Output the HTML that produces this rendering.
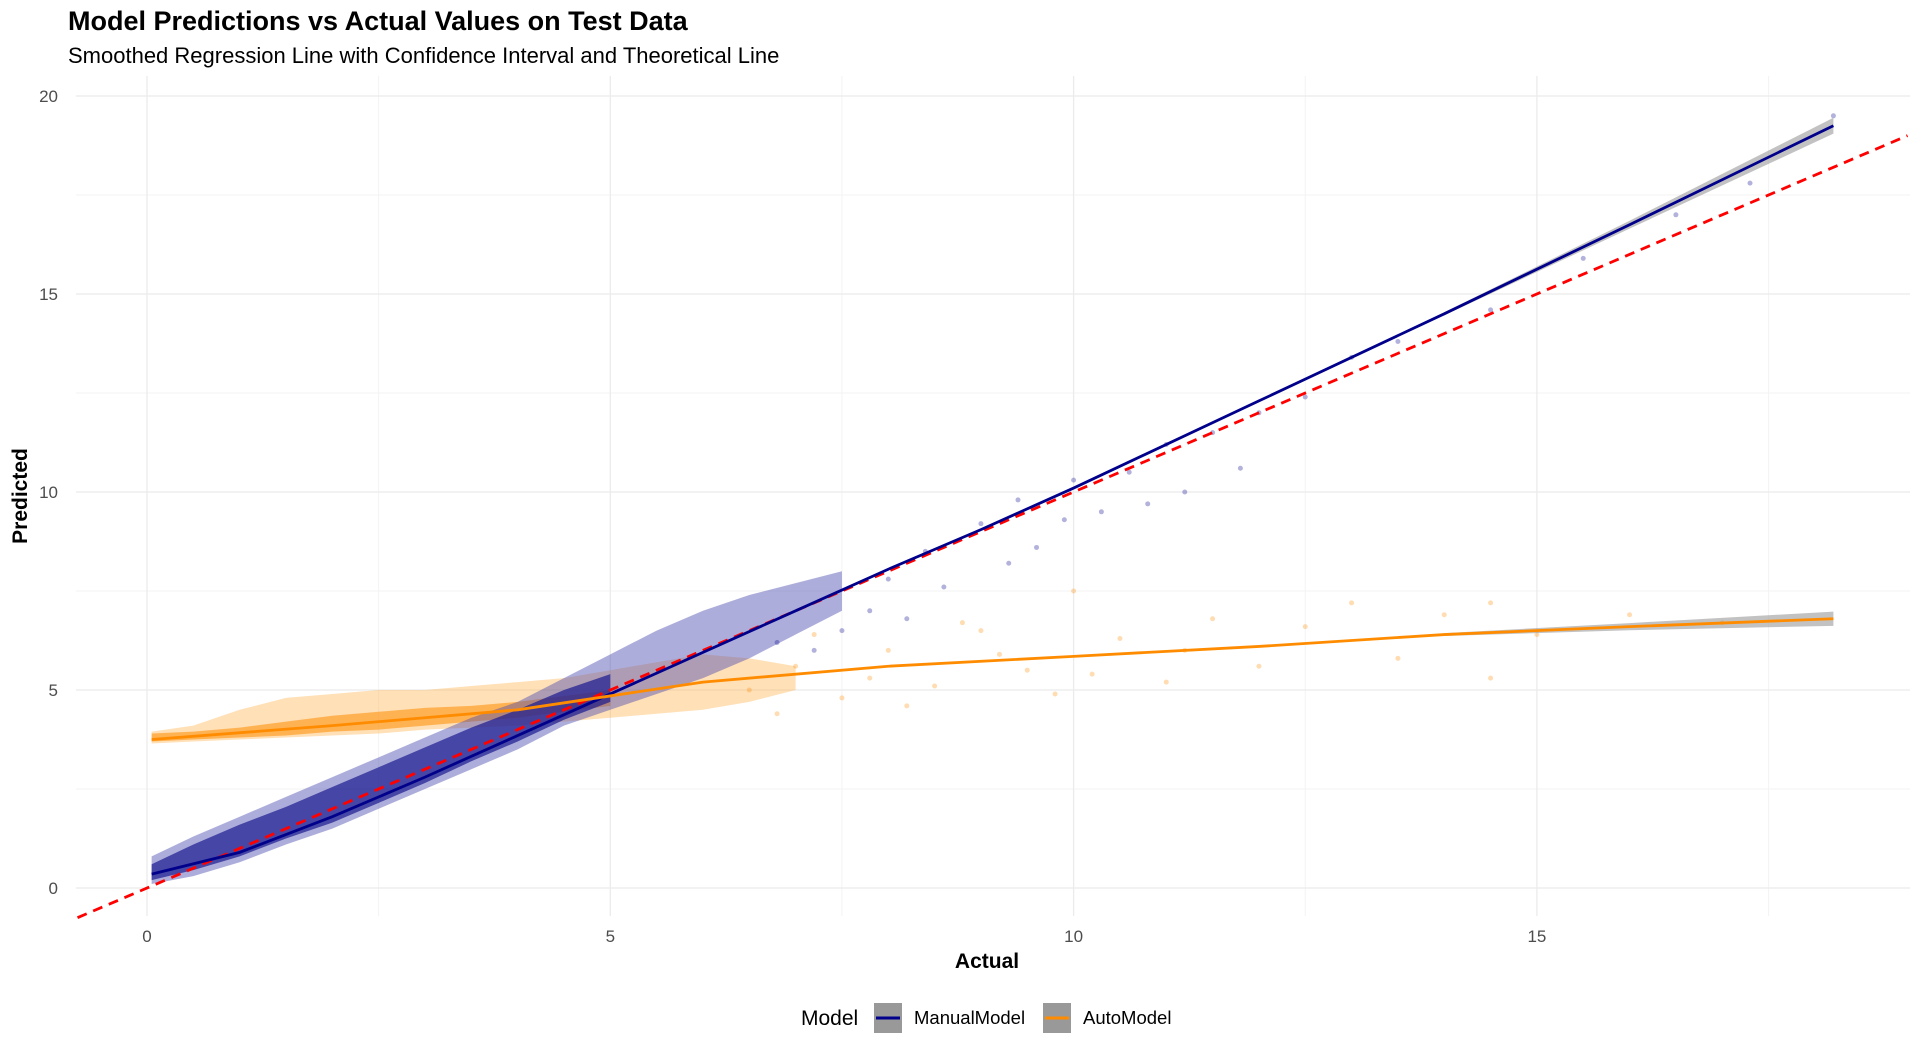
<!DOCTYPE html>
<html><head><meta charset="utf-8"><style>
body{margin:0;background:#fff;font-family:"Liberation Sans",sans-serif;}
svg{display:block}
</style></head><body>
<svg id="chart" width="1920" height="1052" xmlns="http://www.w3.org/2000/svg">
<text x="68" y="30" font-size="27" font-weight="bold" fill="#000">Model Predictions vs Actual Values on Test Data</text>
<text x="68" y="63" font-size="22" fill="#000">Smoothed Regression Line with Confidence Interval and Theoretical Line</text>
<g id="grid"></g>
<g id="marks"></g>
<g id="axes"></g>
<text x="987" y="968" font-size="21" font-weight="bold" text-anchor="middle">Actual</text>
<text transform="translate(27,496) rotate(-90)" font-size="21" font-weight="bold" text-anchor="middle">Predicted</text>
<g>
<text x="801" y="1025" font-size="21">Model</text>
<g>
<rect x="874" y="1003" width="28" height="30" fill="#999"/>
<line x1="876" y1="1018" x2="900" y2="1018" stroke="#00008b" stroke-width="3"/>
<text x="914" y="1024" font-size="18.5">ManualModel</text></g>
<g>
<rect x="1043" y="1003" width="28" height="30" fill="#999"/>
<line x1="1045" y1="1018" x2="1069" y2="1018" stroke="#ff8c00" stroke-width="3"/>
<text x="1083" y="1024" font-size="18.5">AutoModel</text></g>
</g>
</svg>
<script>
const xTicks=[0,5,10,15];
const yTicks=[0,5,10,15,20];
const manualSmoothX=[0.05,1,2,3,4,5,6,7,8,9,10,12,14,16,18.2];
const manualSmoothY=[0.35,0.9,1.8,2.8,3.85,4.9,5.95,7.0,8.05,9.05,10.1,12.3,14.5,16.75,19.25];
const autoSmoothX=[0.05,2,4,5,6,8,10,12,14,16,18.2];
const autoSmoothY=[3.75,4.1,4.5,4.85,5.2,5.6,5.85,6.1,6.4,6.6,6.8];
const manualBandX=[0.05,0.5,1,1.5,2,2.5,3,3.5,4,4.5,5,5.5,6,6.5,7,7.5];
const manualBandLo=[0.1,0.3,0.65,1.1,1.5,2.0,2.5,3.0,3.5,4.1,4.5,4.9,5.3,5.8,6.4,7.0];
const manualBandHi=[0.8,1.3,1.8,2.3,2.8,3.3,3.8,4.3,4.7,5.3,5.9,6.5,7.0,7.4,7.7,8.0];
const manualCoreX=[0.05,0.5,1,1.5,2,2.5,3,3.5,4,4.5,5];
const manualCoreLo=[0.2,0.45,0.8,1.25,1.65,2.15,2.65,3.2,3.7,4.25,4.7];
const manualCoreHi=[0.6,1.1,1.6,2.05,2.55,3.05,3.55,4.05,4.5,5.0,5.4];
const autoBandX=[0.05,0.5,1,1.5,2,2.5,3,3.5,4,4.5,5,5.5,6,6.5,7];
const autoBandLo=[3.65,3.7,3.75,3.8,3.85,3.9,4.0,4.05,4.1,4.2,4.3,4.4,4.5,4.7,5.0];
const autoBandHi=[3.95,4.1,4.5,4.8,4.9,5.0,5.0,5.1,5.2,5.3,5.5,5.7,5.9,5.8,5.6];
const autoCoreX=[0.05,0.5,1,1.5,2,2.5,3,3.5,4,4.5,5];
const autoCoreLo=[3.7,3.75,3.8,3.85,3.95,4.0,4.1,4.2,4.3,4.45,4.6];
const autoCoreHi=[3.9,3.95,4.05,4.2,4.35,4.45,4.55,4.6,4.7,4.85,5.0];
const manualPtsX=[7.5,7.8,8.2,8.6,9.3,9.6,9.9,10.3,10.8,11.2,11.8,12.5,13,14.5,15.5,16.5,17.3,18.2,8.0,9.0,10.0,11.0,12.0,13.5,6.8,7.2,8.4,9.4,10.6,11.5];
const manualPtsY=[6.5,7.0,6.8,7.6,8.2,8.6,9.3,9.5,9.7,10.0,10.6,12.4,13.4,14.6,15.9,17.0,17.8,19.5,7.8,9.2,10.3,11.2,12.0,13.8,6.2,6.0,8.5,9.8,10.5,11.5];
const autoPtsX=[7,7.5,8,8.5,9,9.5,10,10.5,11,11.5,12,12.5,13,13.5,14,14.5,14.5,15,16,17,7.2,8.2,9.2,10.2,11.2,6.5,6.8,7.8,8.8,9.8];
const autoPtsY=[5.6,4.8,6.0,5.1,6.5,5.5,7.5,6.3,5.2,6.8,5.6,6.6,7.2,5.8,6.9,7.2,5.3,6.4,6.9,6.7,6.4,4.6,5.9,5.4,6.0,5.0,4.4,5.3,6.7,4.9];
const NS="http://www.w3.org/2000/svg";
const X=v=>147+v*92.66, Y=v=>888-v*39.6;
const L=76,R=1910,T=76,B=916;
function mk(tag,attrs,parent){const e=document.createElementNS(NS,tag);for(const k in attrs)e.setAttribute(k,attrs[k]);parent.appendChild(e);return e;}
const grid=document.getElementById('grid'),marks=document.getElementById('marks'),axes=document.getElementById('axes');
for(let v=2.5;v<19;v+=5){const g=mk('line',{x1:X(v),x2:X(v),y1:T,y2:B,stroke:'#f3f3f3','stroke-width':1},grid);}
for(let v=2.5;v<21;v+=5){const g=mk('line',{x1:L,x2:R,y1:Y(v),y2:Y(v),stroke:'#f3f3f3','stroke-width':1},grid);}
xTicks.forEach(v=>{const g=mk('line',{x1:X(v),x2:X(v),y1:T,y2:B,stroke:'#ebebeb','stroke-width':1.3},grid);
const t=mk('text',{x:X(v),y:942,'font-size':17,fill:'#4d4d4d','text-anchor':'middle'},axes);t.textContent=v;});
yTicks.forEach(v=>{const g=mk('line',{x1:L,x2:R,y1:Y(v),y2:Y(v),stroke:'#ebebeb','stroke-width':1.3},grid);
const t=mk('text',{x:58,y:Y(v)+6,'font-size':17,fill:'#4d4d4d','text-anchor':'end'},axes);t.textContent=v;});
function band(xs,lo,hi,fill,op,name){let d='M'+xs.map((x,i)=>X(x)+','+Y(hi[i])).join('L');for(let i=xs.length-1;i>=0;i--)d+='L'+X(xs[i])+','+Y(lo[i]);d+='Z';
const p=mk('path',{d:d,fill:fill,'fill-opacity':op},marks);}
band(autoBandX,autoBandLo,autoBandHi,'#ffa630',0.35,'auto-point-cloud');
band(autoCoreX,autoCoreLo,autoCoreHi,'#ff8c00',0.55,'auto-point-cloud-core');
band(manualBandX,manualBandLo,manualBandHi,'#4a4ab0',0.45,'manual-point-cloud');
band(manualCoreX,manualCoreLo,manualCoreHi,'#1a1a90',0.7,'manual-point-cloud-core');
autoPtsX.forEach((x,i)=>{const c=mk('circle',{cx:X(x),cy:Y(autoPtsY[i]),r:2.5,fill:'#ff8c00','fill-opacity':0.3},marks);});
manualPtsX.forEach((x,i)=>{const c=mk('circle',{cx:X(x),cy:Y(manualPtsY[i]),r:2.5,fill:'#00008b','fill-opacity':0.3},marks);});
function ribbon(xs,ys,w,name){const n=xs.length;let d='M'+X(xs[n-3])+','+Y(ys[n-3]+w*0.2)+'L'+X(xs[n-2])+','+Y(ys[n-2]+w*0.5)+'L'+X(xs[n-1])+','+Y(ys[n-1]+w)+'L'+X(xs[n-1])+','+Y(ys[n-1]-w)+'L'+X(xs[n-2])+','+Y(ys[n-2]-w*0.5)+'L'+X(xs[n-3])+','+Y(ys[n-3]-w*0.2)+'Z';
const p=mk('path',{d:d,fill:'#999','fill-opacity':0.6},marks);}
ribbon(manualSmoothX,manualSmoothY,0.2,'manual-confidence-ribbon');
ribbon(autoSmoothX,autoSmoothY,0.18,'auto-confidence-ribbon');
const id=mk('line',{x1:X(-0.75),y1:Y(-0.75),x2:X(19),y2:Y(19),stroke:'#ff0000','stroke-width':2.8,'stroke-dasharray':'10,7'},marks);

const pm=mk('polyline',{points:manualSmoothX.map((x,i)=>X(x)+','+Y(manualSmoothY[i])).join(' '),fill:'none',stroke:'#00008b','stroke-width':2.8},marks);

const pa=mk('polyline',{points:autoSmoothX.map((x,i)=>X(x)+','+Y(autoSmoothY[i])).join(' '),fill:'none',stroke:'#ff8c00','stroke-width':2.8},marks);

</script>
</body></html>
